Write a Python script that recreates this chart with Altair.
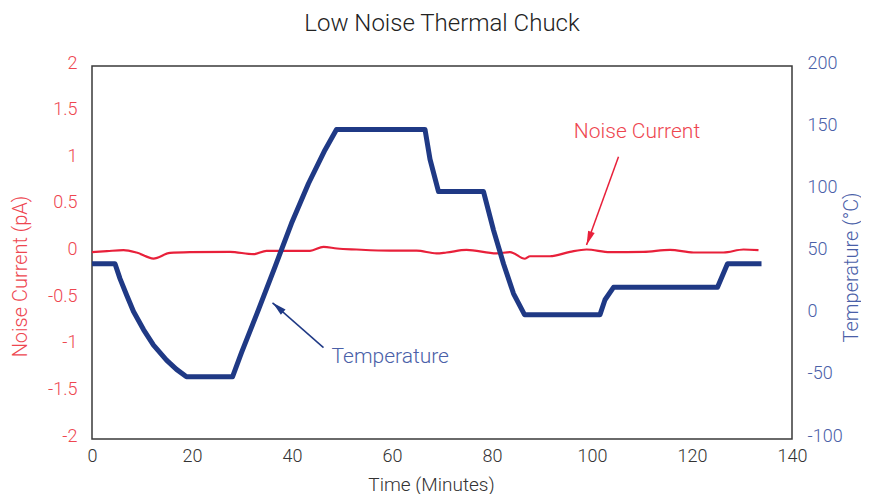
import altair as alt
import pandas as pd

# ---- data ----
noise_time = [0, 3, 6.3, 8.9, 12.3, 15.6, 19.6, 27.6, 32.3, 34.9, 43.6, 46.3, 49, 52.9,
              59.6, 64.9, 68.9, 70.9, 74.9, 80.9, 83.6, 86.6, 87.6, 91.6, 95.6, 98.9,
              103.6, 110.3, 115.6, 120.3, 126.3, 130.3, 133.3]
noise_pa = [0.005, 0.015, 0.025, 0.0, -0.065, -0.005, 0.003, 0.007, -0.018, 0.018, 0.018,
            0.06, 0.043, 0.032, 0.02, 0.02, -0.01, 0.0, 0.028, -0.01, 0.005, -0.067, -0.04,
            -0.04, 0.007, 0.032, 0.003, 0.007, 0.028, 0.0, 0.0, 0.032, 0.025]

temp_time = [0, 4.6, 5.6, 6.9, 8.3, 10.3, 12.3, 14.9, 16.9, 18.9, 28.1, 29.9, 33.3, 36.6,
             39.9, 43.3, 46.6, 48.9, 66.6, 67.6, 69.3, 78.3, 80.3, 82.3, 84.3, 86.5,
             101.6, 102.6, 104.3, 125.1, 127.1, 133.9]
temp_c = [41, 41, 29, 16, 2.5, -12, -24.5, -36.5, -44, -50, -50, -30.5, 4, 38.5,
          73.5, 105.5, 132.5, 149, 149, 125, 99, 99, 68, 41, 17, 0,
          0, 12, 22, 22, 41, 41]

x_ticks = [0, 20, 40, 60, 80, 100, 120, 140]
left_ticks = [-2, -1.5, -1, -0.5, 0, 0.5, 1, 1.5, 2]
right_ticks = [-100, -50, 0, 50, 100, 150, 200]

# annotations (in time / noise-current units)
noise_label = {"text": ["Noise Current"], "t": [109.0], "pa": [1.29]}
noise_arrow = {"t": [105.3], "pa": [1.027], "t2": [98.9], "pa2": [0.08]}
noise_head = {"t": [99.4], "pa": [0.151]}
temp_label = {"text": ["Temperature"], "t": [47.9], "pa": [-1.117]}
temp_arrow = {"t": [46.3], "pa": [-1.02], "t2": [36.1], "pa2": [-0.54]}
temp_head = {"t": [37.2], "pa": [-0.589]}

RED = "#e8203a"
RED_TXT = "#ee4650"
BLUE = "#1f3985"
BLUE_TXT = "#4a60a8"
DARK = "#333333"
FONT = "Roboto"

noise_df = pd.DataFrame({"t": noise_time, "pa": noise_pa})
temp_df = pd.DataFrame({"t": temp_time, "c": temp_c})

x_enc = alt.X(
    "t:Q",
    scale=alt.Scale(domain=[0, 140], nice=False),
    axis=alt.Axis(values=x_ticks, grid=False, ticks=False, domain=False, labelFlush=False,
                  labelFontSize=18, labelColor=DARK, labelPadding=8, labelFont=FONT,
                  labelFontWeight=300,
                  title="Time (Minutes)", titleFontSize=19, titleFontWeight=300,
                  titleFont=FONT, titleColor=DARK, titleX=339, titleY=45,
                  titleBaseline="middle"),
)
y_left = alt.Y(
    "pa:Q",
    scale=alt.Scale(domain=[-2, 2], nice=False),
    axis=alt.Axis(values=left_ticks, grid=False, ticks=False, domain=False, orient="left",
                  labelExpr="toString(datum.value)", labelFlush=False,
                  labelFontSize=18, labelColor=RED_TXT, labelPadding=15, labelFont=FONT,
                  labelFontWeight=300, labelOffset=-3,
                  title="Noise Current (pA)", titleFontSize=20, titleFontWeight=300,
                  titleFont=FONT, titleColor=RED_TXT, titleX=-72, titleY=210,
                  titleAngle=270, titleBaseline="middle"),
)
y_right = alt.Y(
    "c:Q",
    scale=alt.Scale(domain=[-100, 200], nice=False),
    axis=alt.Axis(values=right_ticks, grid=False, ticks=False, domain=False, orient="right",
                  labelExpr="toString(datum.value)", labelFlush=False,
                  labelFontSize=18, labelColor=BLUE_TXT, labelPadding=15, labelFont=FONT,
                  labelFontWeight=300, labelOffset=-3,
                  title="Temperature (°C)", titleFontSize=20, titleFontWeight=300,
                  titleFont=FONT, titleColor=BLUE_TXT, titleX=59, titleY=201,
                  titleAngle=270, titleBaseline="middle"),
)

noise_line = alt.Chart(noise_df).mark_line(
    color=RED, strokeWidth=2.2, interpolate="monotone"
).encode(x=x_enc, y=y_left)

head_path = "M0,-1L0.5,1L-0.5,1Z"

n_text = alt.Chart(pd.DataFrame(noise_label)).mark_text(
    color=RED_TXT, fontSize=21, font=FONT, fontWeight=300, align="center", baseline="middle"
).encode(x=x_enc, y=y_left, text="text:N")
n_rule = alt.Chart(pd.DataFrame(noise_arrow)).mark_rule(color=RED, strokeWidth=1.5).encode(
    x=x_enc, y=y_left, x2="t2:Q", y2="pa2:Q")
n_head = alt.Chart(pd.DataFrame(noise_head)).mark_point(
    shape=head_path, filled=True, color=RED, opacity=1, size=196, angle=200, strokeWidth=0
).encode(x=x_enc, y=y_left)

t_text = alt.Chart(pd.DataFrame(temp_label)).mark_text(
    color=BLUE_TXT, fontSize=21, font=FONT, fontWeight=300, align="left", baseline="middle"
).encode(x=x_enc, y=y_left, text="text:N")
t_rule = alt.Chart(pd.DataFrame(temp_arrow)).mark_rule(color=BLUE, strokeWidth=1.5).encode(
    x=x_enc, y=y_left, x2="t2:Q", y2="pa2:Q")
t_head = alt.Chart(pd.DataFrame(temp_head)).mark_point(
    shape=head_path, filled=True, color=BLUE, opacity=1, size=196, angle=312, strokeWidth=0
).encode(x=x_enc, y=y_left)

left = alt.layer(noise_line, n_text, n_rule, n_head, t_text, t_rule, t_head)

temp_line = alt.Chart(temp_df).mark_line(
    color=BLUE, strokeWidth=5, strokeJoin="round"
).encode(x=x_enc, y=y_right)

chart = alt.layer(left, temp_line).resolve_scale(y="independent").properties(
    width=700,
    height=373,
    title=alt.Title("Low Noise Thermal Chuck", fontSize=24, fontWeight=300, font=FONT,
                    color="#222222", anchor="middle", offset=18),
    autosize=alt.AutoSizeParams(type="none"),
    padding={"left": 84, "top": 58, "right": 69, "bottom": 55},
).configure_view(stroke="#3a3a3a", strokeWidth=1.5)

chart.save("out.html", embed_options={"renderer": "svg", "actions": False})
